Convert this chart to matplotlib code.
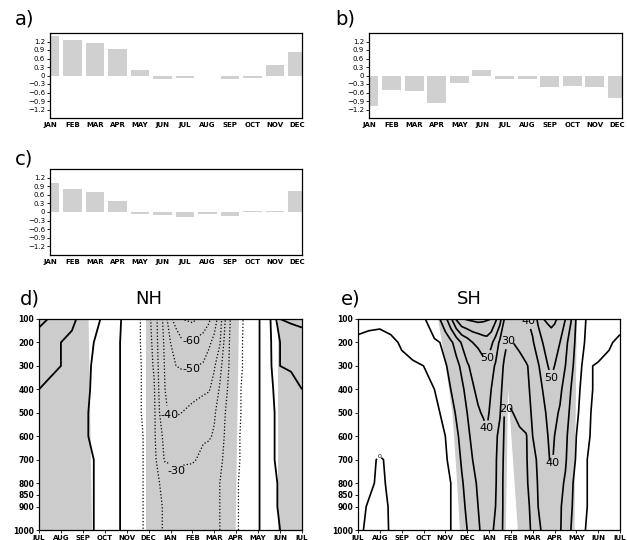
import numpy as np
import matplotlib
matplotlib.use('Agg')
import matplotlib.pyplot as plt

plt.rcParams['font.family'] = 'DejaVu Sans'

# ---- monthly bar panels a) b) c)
months = ['JAN', 'FEB', 'MAR', 'APR', 'MAY', 'JUN', 'JUL', 'AUG', 'SEP', 'OCT', 'NOV', 'DEC']
bars_a = [1.39, 1.24, 1.16, 0.92, 0.18, -0.12, -0.08, -0.03, -0.12, -0.10, 0.36, 0.82]
bars_b = [-1.08, -0.50, -0.56, -0.98, -0.26, 0.18, -0.14, -0.11, -0.42, -0.36, -0.41, -0.80]
bars_c = [1.02, 0.80, 0.69, 0.39, -0.06, -0.09, -0.18, -0.08, -0.13, 0.05, 0.05, 0.75]
bar_yticks = [-1.2, -0.9, -0.6, -0.3, 0, 0.3, 0.6, 0.9, 1.2]
bar_yticklabels = ['\u22121.2', '\u22120.9', '\u22120.6', '\u22120.3', '0', '0.3', '0.6', '0.9', '1.2']

# ---- month / pressure sections d) NH and e) SH
cycle_months = ['JUL', 'AUG', 'SEP', 'OCT', 'NOV', 'DEC', 'JAN', 'FEB', 'MAR', 'APR', 'MAY', 'JUN', 'JUL']
p_ticks = [100, 200, 300, 400, 500, 600, 700, 800, 850, 900, 1000]
p_rows = [100, 200, 300, 400, 500, 600, 700, 800, 900, 1000]

# month positions (0 = JUL) of the grid columns
nh_m = [0, 0.5, 1, 1.5, 2, 2.5, 3, 3.5, 4, 4.5, 4.75, 5, 5.25, 5.5, 5.75, 6, 6.25, 6.5, 7, 7.5,
        7.75, 8, 8.25, 8.5, 8.75, 9, 9.5, 10, 10.25, 10.5, 10.75, 11, 11.5, 12]
sh_m = [0, 0.5, 1, 1.5, 2, 2.5, 3, 3.5, 3.75, 4, 4.25, 4.5, 4.75, 5, 5.25, 5.5, 5.75, 5.9, 6.1,
        6.3, 6.5, 6.7, 6.9, 7.1, 7.4, 7.7, 8, 8.25, 8.5, 8.7, 8.85, 9, 9.25, 9.5, 9.75, 10, 10.25,
        10.5, 10.75, 11, 11.5, 12]

# field values estimated from the contours (rows = p_rows)
nh_field = [
    [34, 29, 25, 22, 17, 13, 8, 3, -3, -8, -12, -17, -25, -34, -45, -58, -64, -70, -72, -67, -62, -55, -45, -30, -19, -15, -7, -1, 3, 8, 16, 30, 32, 34],
    [23, 22, 20, 18, 14, 10, 6, 2, -3, -8, -12, -16, -23, -34, -42, -50, -54, -58, -59, -55, -52, -47, -41, -26, -18, -14, -7, -1, 3, 7, 15, 20, 22, 23],
    [22, 21, 20, 17, 13, 9, 6, 2, -3, -8, -11, -16, -21, -33, -41, -47, -50, -51, -51, -49, -45, -41, -33, -24, -18, -14, -7, -1, 3, 7, 14, 20, 21, 22],
    [20, 19, 16, 14, 12, 9, 5, 2, -3, -8, -11, -15, -19, -32, -40, -42, -44, -44, -44, -42, -41, -36, -29, -22, -17, -13, -6, -1, 3, 7, 11, 13, 17, 20],
    [18, 17, 15, 13, 11, 9, 5, 2, -3, -8, -11, -15, -18, -30, -39, -41, -41, -40, -37, -34, -32, -31, -26, -20, -16, -13, -6, -1, 3, 7, 10, 12, 15, 18],
    [18, 16, 14, 13, 11, 9, 6, 2, -3, -8, -10, -14, -18, -28, -32, -34, -35, -34, -33, -31, -31, -29, -24, -19, -16, -12, -6, -1, 3, 6, 10, 12, 15, 18],
    [16, 15, 14, 12, 11, 10, 6, 2, -3, -8, -10, -14, -17, -25, -31, -31, -32, -31, -31, -28, -26, -24, -21, -19, -15, -12, -6, -1, 3, 6, 10, 11, 14, 16],
    [15, 14, 13, 12, 11, 10, 6, 2, -3, -8, -10, -13, -17, -20, -22, -25, -28, -27, -25, -23, -22, -21, -20, -18, -15, -11, -6, -1, 3, 6, 9, 11, 13, 15],
    [14, 13, 12, 12, 11, 10, 6, 2, -3, -8, -10, -13, -16, -19, -21, -22, -24, -25, -24, -22, -22, -21, -20, -18, -14, -11, -6, -1, 3, 6, 9, 11, 12, 14],
    [13, 12, 12, 11, 11, 10, 6, 2, -3, -7, -10, -13, -16, -19, -21, -21, -22, -23, -23, -22, -21, -21, -20, -17, -14, -11, -6, -1, 3, 6, 9, 10, 12, 13],
]
sh_field = [
    [14, 13, 13, 14, 15, 17, 19, 25, 30, 37, 48, 61, 69, 71, 72, 73, 72, 71, 70, 62, 54, 40, 38, 37, 37, 39, 43, 52, 60, 62, 63, 62, 57, 50, 41, 29, 23, 19, 18, 16, 15, 14],
    [8, 7, 6, 8, 11, 13, 16, 19, 20, 24, 28, 34, 41, 45, 50, 52, 55, 56, 52, 46, 38, 32, 29, 30, 32, 36, 39, 45, 51, 53, 55, 53, 50, 43, 35, 28, 21, 19, 17, 15, 11, 8],
    [6, 6, 6, 7, 8, 9, 10, 14, 16, 19, 23, 27, 32, 39, 42, 44, 47, 48, 43, 39, 33, 29, 25, 26, 27, 29, 33, 39, 45, 50, 52, 50, 45, 40, 33, 26, 20, 15, 10, 9, 8, 6],
    [6, 6, 7, 7, 8, 9, 9, 10, 12, 16, 20, 24, 28, 33, 39, 42, 44, 45, 40, 36, 32, 27, 22, 23, 25, 28, 32, 36, 41, 45, 48, 46, 42, 36, 30, 24, 18, 13, 10, 9, 7, 6],
    [5, 6, 6, 7, 8, 8, 9, 9, 10, 12, 16, 21, 25, 30, 34, 39, 41, 42, 38, 35, 31, 20, 19, 20, 23, 27, 31, 35, 38, 42, 44, 42, 39, 34, 28, 22, 17, 12, 9, 9, 7, 5],
    [4, 5, 6, 7, 7, 8, 9, 9, 10, 10, 14, 18, 23, 28, 32, 34, 37, 39, 36, 32, 27, 19, 16, 17, 18, 19, 30, 33, 37, 40, 42, 40, 36, 32, 26, 20, 16, 11, 9, 8, 6, 4],
    [4, 2, -1, 2, 3, 4, 6, 8, 9, 9, 12, 16, 21, 25, 30, 32, 35, 36, 34, 31, 26, 18, 15, 16, 18, 19, 26, 32, 36, 39, 41, 39, 35, 31, 25, 19, 15, 10, 9, 8, 6, 4],
    [4, 2, -2, 2, 2, 4, 5, 7, 8, 9, 10, 15, 19, 23, 28, 31, 34, 35, 33, 31, 24, 18, 14, 15, 17, 19, 23, 31, 34, 35, 37, 35, 32, 29, 22, 17, 13, 10, 9, 8, 6, 4],
    [3, -1, -3, 1, 2, 3, 5, 7, 8, 9, 10, 13, 17, 22, 26, 30, 33, 34, 32, 30, 24, 18, 13, 14, 16, 18, 22, 30, 32, 34, 35, 34, 31, 27, 21, 17, 13, 10, 8, 7, 5, 3],
    [3, -3, -4, 1, 2, 3, 5, 7, 8, 9, 10, 12, 16, 20, 25, 29, 32, 34, 32, 28, 23, 18, 12, 14, 16, 18, 21, 28, 32, 34, 35, 33, 31, 25, 20, 16, 12, 9, 8, 7, 5, 3],
]

# gray (significant) areas
shade_p = [100, 1000]
nh_band1_right = [2.24, 2.4]
nh_band2_left = [4.86, 4.86]
nh_band2_right = [9.1, 8.95]
nh_band3_left = [10.9, 10.9]
sh_shade_p = [100, 300, 500, 700, 1000]
sh_band_left = [3.65, 4.0, 4.3, 4.45, 4.65]
sh_band_right = [10.0, 9.97, 9.95, 9.92, 9.9]
sh_gap_p = [395, 1000]
sh_gap_left = [6.85, 6.75]
sh_gap_right = [6.85, 7.3]

# contour label anchors (month, hPa)
nh_labels = {-60: [(6.96, 197)], -50: [(6.96, 303)], -40: [(5.98, 507)], -30: [(5.98, 773)]}
sh_labels = {50: [(5.9, 264), (8.85, 362)], 40: [(5.9, 585), (8.88, 713), (7.7, 112)],
             30: [(6.9, 198)], 20: [(6.88, 488)], 0: [(0.99, 690)]}

GRAY = '#cccccc'
fig = plt.figure(figsize=(6.27, 5.40), dpi=100)


def bar_panel(rect, vals, label, lx, ly):
    ax = fig.add_axes(rect)
    ax.bar(np.arange(1, 13), vals, width=0.84, color='#d0d0d0', zorder=1)
    ax.set_xlim(1, 12.2)
    ax.set_ylim(-1.5, 1.5)
    ax.set_xticks(np.arange(1, 13))
    ax.set_xticklabels(months, fontsize=5, fontweight='bold')
    ax.set_yticks(bar_yticks)
    ax.set_yticklabels(bar_yticklabels, fontsize=5)
    ax.tick_params(axis='x', length=0, pad=3)
    ax.tick_params(axis='y', length=2, width=0.6, pad=1.5)
    for s in ax.spines.values():
        s.set_linewidth(0.9)
    fig.text(lx / 627, 1 - ly / 540, label, fontsize=14, va='center', ha='left')
    return ax


bar_panel([50 / 627, 1 - 118 / 540, 252 / 627, 85 / 540], bars_a, 'a)', 15, 19)
bar_panel([369 / 627, 1 - 118 / 540, 253 / 627, 85 / 540], bars_b, 'b)', 335, 19)
bar_panel([50 / 627, 1 - 255 / 540, 252 / 627, 86 / 540], bars_c, 'c)', 15, 159)


def section_axes(rect, label, title, lx, tx):
    ax = fig.add_axes(rect)
    ax.set_xlim(0, 12)
    ax.set_ylim(1000, 100)
    ax.set_xticks(np.arange(13))
    ax.set_xticklabels(cycle_months, fontsize=5, fontweight='bold')
    ax.set_yticks(p_ticks)
    ax.set_yticklabels([str(p) for p in p_ticks], fontsize=5.5, fontweight='bold')
    ax.tick_params(axis='both', length=2, width=0.6, pad=1.5)
    for s in ax.spines.values():
        s.set_linewidth(0.9)
        s.set_zorder(5)
    fig.text(lx / 627, 1 - 299 / 540, label, fontsize=14, va='center', ha='left')
    fig.text(tx / 627, 1 - 299 / 540, title, fontsize=13, va='center', ha='center')
    return ax


def draw_levels(ax, xm, field, levels, style, lw, labels):
    # one contour call per level so each level can get its own manual labels
    for lvl in levels:
        cs = ax.contour(xm, p_rows, field, levels=[lvl], colors='k',
                        linestyles=style, linewidths=lw)
        if lvl in labels:
            txt = ax.clabel(cs, fmt='%d', fontsize=4.5 if lvl == 0 else 8,
                            inline=True, inline_spacing=1, manual=labels[lvl])
            for t in txt:
                t.set_rotation(0)


# d) NH
axd = section_axes([39 / 627, 1 - 530 / 540, 263 / 627, 211 / 540], 'd)', 'NH', 20, 149)
axd.fill_betweenx(shade_p, [0, 0], nh_band1_right, color=GRAY, lw=0, zorder=0)
axd.fill_betweenx(shade_p, nh_band2_left, nh_band2_right, color=GRAY, lw=0, zorder=0)
axd.fill_betweenx(shade_p, nh_band3_left, [12, 12], color=GRAY, lw=0, zorder=0)
draw_levels(axd, nh_m, nh_field, [-70, -60, -50, -40, -30, -20, -10], 'dotted', 0.9, nh_labels)
draw_levels(axd, nh_m, nh_field, [0, 10, 20, 30], 'solid', 1.3, {})

# e) SH
axe = section_axes([358 / 627, 1 - 530 / 540, 262 / 627, 211 / 540], 'e)', 'SH', 341, 469)
axe.fill_betweenx(sh_shade_p, sh_band_left, sh_band_right, color=GRAY, lw=0, zorder=0)
axe.fill_betweenx(sh_gap_p, sh_gap_left, sh_gap_right, color='white', lw=0, zorder=0.5)
draw_levels(axe, sh_m, sh_field, [0, 10, 20, 30, 40, 50, 60, 70], 'solid', 1.2, sh_labels)

fig.savefig('out.png', dpi=100)
